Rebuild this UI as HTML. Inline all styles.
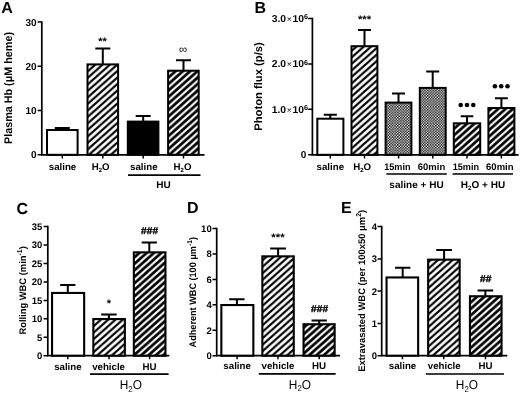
<!DOCTYPE html>
<html><head><meta charset="utf-8"><title>Figure</title>
<style>
html,body{margin:0;padding:0;background:#fff;}
body{width:520px;height:393px;overflow:hidden;font-family:"Liberation Sans",sans-serif;}
svg{display:block;will-change:transform;text-rendering:geometricPrecision;font-family:"Liberation Sans",sans-serif;}
text{fill:#000;}
</style></head><body>
<svg width="520" height="393" viewBox="0 0 520 393">
<defs>
<pattern id="lh" width="7.3" height="6.5" patternUnits="userSpaceOnUse">
<rect width="7.3" height="6.5" fill="#fff"/>
<path d="M-3.650 3.250L3.650 -3.250M-3.650 9.750L10.950 -3.250M3.650 9.750L10.950 3.250" stroke="#000" stroke-width="2.2"/>
</pattern>
<pattern id="hh" width="7.3" height="6.5" patternUnits="userSpaceOnUse">
<rect width="7.3" height="6.5" fill="#fff"/>
<path d="M-3.650 3.250L3.650 -3.250M-3.650 9.750L10.950 -3.250M3.650 9.750L10.950 3.250" stroke="#000" stroke-width="2.7"/>
</pattern>
<pattern id="ck" width="2.72" height="2.72" patternUnits="userSpaceOnUse">
<rect width="2.72" height="2.72" fill="#fff"/>
<rect x="0" y="0" width="1.45" height="1.45" fill="#000"/>
<rect x="1.36" y="1.36" width="1.45" height="1.45" fill="#000"/>
</pattern>
</defs>
<rect width="520" height="393" fill="#fff"/>

<text x="1.20" y="13.00" font-size="16" font-weight="bold" text-anchor="start">A</text>
<text x="254.40" y="12.50" font-size="16" font-weight="bold" text-anchor="start">B</text>
<text x="16.40" y="213.90" font-size="16" font-weight="bold" text-anchor="start">C</text>
<text x="187.10" y="213.10" font-size="16" font-weight="bold" text-anchor="start">D</text>
<text x="341.00" y="213.10" font-size="16" font-weight="bold" text-anchor="start">E</text>
<path d="M41.80 21.30V155.65M40.95 154.80H204.50" stroke="#000" stroke-width="1.7" fill="none"/>
<path d="M37.60 22.10H41.80M37.60 66.30H41.80M37.60 110.50H41.80M37.60 154.70H41.80M62.30 154.80V158.40M102.80 154.80V158.40M143.20 154.80V158.40M183.50 154.80V158.40" stroke="#000" stroke-width="1.5" fill="none"/>
<text x="36.60" y="25.60" font-size="10" font-weight="bold" text-anchor="end">30</text>
<text x="36.60" y="69.80" font-size="10" font-weight="bold" text-anchor="end">20</text>
<text x="36.60" y="114.00" font-size="10" font-weight="bold" text-anchor="end">10</text>
<text x="36.60" y="158.20" font-size="10" font-weight="bold" text-anchor="end">0</text>
<rect x="47.00" y="130.00" width="30.60" height="24.80" fill="#fff" stroke="#000" stroke-width="2.0"/>
<rect x="87.50" y="64.40" width="30.60" height="90.40" fill="url(#lh)" stroke="#000" stroke-width="2.0"/>
<rect x="127.80" y="121.60" width="30.60" height="33.20" fill="#000" stroke="#000" stroke-width="2.0"/>
<rect x="168.10" y="70.70" width="30.60" height="84.10" fill="url(#hh)" stroke="#000" stroke-width="2.0"/>
<path d="M54.80 128.00H69.80M62.30 128.00V130.00" stroke="#000" stroke-width="2.0" fill="none"/>
<path d="M95.30 48.50H110.30M102.80 48.50V64.40" stroke="#000" stroke-width="2.0" fill="none"/>
<path d="M135.70 116.10H150.70M143.20 116.10V121.60" stroke="#000" stroke-width="2.0" fill="none"/>
<path d="M176.00 60.30H191.00M183.50 60.30V70.70" stroke="#000" stroke-width="2.0" fill="none"/>
<text x="102.60" y="45.00" font-size="11" font-weight="bold" text-anchor="middle" textLength="8.6" lengthAdjust="spacingAndGlyphs">**</text>
<text x="183.20" y="52.90" font-size="11.5" font-weight="normal" text-anchor="middle">∞</text>
<text x="62.50" y="170.00" font-size="9.7" font-weight="bold" text-anchor="middle">saline</text>
<text x="100.60" y="170.00" font-size="9.7" font-weight="bold" text-anchor="middle">H<tspan font-size="6.01" dy="2">2</tspan><tspan dy="-2">O</tspan></text>
<text x="143.80" y="170.00" font-size="9.7" font-weight="bold" text-anchor="middle">saline</text>
<text x="182.50" y="170.00" font-size="9.7" font-weight="bold" text-anchor="middle">H<tspan font-size="6.01" dy="2">2</tspan><tspan dy="-2">O</tspan></text>
<path d="M128 175.2H200.5" stroke="#000" stroke-width="1.7"/>
<text x="163.40" y="188.40" font-size="10" font-weight="bold" text-anchor="middle">HU</text>
<text transform="translate(11.50 88.00) rotate(-90)" font-size="11" font-weight="bold" text-anchor="middle" textLength="112" lengthAdjust="spacingAndGlyphs">Plasma Hb (μM heme)</text>
<path d="M312.40 17.80V155.65M311.55 154.80H518.60" stroke="#000" stroke-width="1.7" fill="none"/>
<path d="M308.20 18.50H312.40M308.20 63.90H312.40M308.20 109.30H312.40M308.20 154.70H312.40M330.30 154.80V158.40M364.50 154.80V158.40M398.60 154.80V158.40M432.80 154.80V158.40M467.00 154.80V158.40M501.40 154.80V158.40" stroke="#000" stroke-width="1.5" fill="none"/>
<text x="308.00" y="21.80" font-size="10" font-weight="bold" text-anchor="end" textLength="36.3" lengthAdjust="spacingAndGlyphs">3.0<tspan font-weight="normal" font-size="8.5" dx="0.6">×</tspan><tspan dx="0.6">10</tspan><tspan font-size="7" dy="-2.6">6</tspan></text>
<text x="308.00" y="67.20" font-size="10" font-weight="bold" text-anchor="end" textLength="36.3" lengthAdjust="spacingAndGlyphs">2.0<tspan font-weight="normal" font-size="8.5" dx="0.6">×</tspan><tspan dx="0.6">10</tspan><tspan font-size="7" dy="-2.6">6</tspan></text>
<text x="308.00" y="112.60" font-size="10" font-weight="bold" text-anchor="end" textLength="36.3" lengthAdjust="spacingAndGlyphs">1.0<tspan font-weight="normal" font-size="8.5" dx="0.6">×</tspan><tspan dx="0.6">10</tspan><tspan font-size="7" dy="-2.6">6</tspan></text>
<text x="306.30" y="158.20" font-size="10" font-weight="bold" text-anchor="end">0</text>
<rect x="317.30" y="118.70" width="26.10" height="36.10" fill="#fff" stroke="#000" stroke-width="2.0"/>
<rect x="351.50" y="46.20" width="25.90" height="108.60" fill="url(#lh)" stroke="#000" stroke-width="2.0"/>
<rect x="385.60" y="102.60" width="25.80" height="52.20" fill="url(#ck)" stroke="#000" stroke-width="2.0"/>
<rect x="419.80" y="87.90" width="25.90" height="66.90" fill="url(#ck)" stroke="#000" stroke-width="2.0"/>
<rect x="453.80" y="123.30" width="26.40" height="31.50" fill="url(#hh)" stroke="#000" stroke-width="2.0"/>
<rect x="488.40" y="108.00" width="26.00" height="46.80" fill="url(#hh)" stroke="#000" stroke-width="2.0"/>
<path d="M323.75 114.80H336.85M330.30 114.80V118.70" stroke="#000" stroke-width="2.0" fill="none"/>
<path d="M358.00 30.10H371.00M364.50 30.10V46.20" stroke="#000" stroke-width="2.0" fill="none"/>
<path d="M392.00 93.50H405.00M398.50 93.50V102.60" stroke="#000" stroke-width="2.0" fill="none"/>
<path d="M426.20 71.50H439.20M432.70 71.50V87.90" stroke="#000" stroke-width="2.0" fill="none"/>
<path d="M460.70 116.20H473.30M467.00 116.20V123.30" stroke="#000" stroke-width="2.0" fill="none"/>
<path d="M495.00 98.20H507.80M501.40 98.20V108.00" stroke="#000" stroke-width="2.0" fill="none"/>
<text x="364.60" y="22.70" font-size="11" font-weight="bold" text-anchor="middle" textLength="13.3" lengthAdjust="spacingAndGlyphs">***</text>
<circle cx="460.70" cy="105" r="2.3" fill="#000"/>
<circle cx="467.00" cy="105" r="2.3" fill="#000"/>
<circle cx="473.30" cy="105" r="2.3" fill="#000"/>
<circle cx="494.90" cy="86.2" r="2.3" fill="#000"/>
<circle cx="501.20" cy="86.2" r="2.3" fill="#000"/>
<circle cx="507.50" cy="86.2" r="2.3" fill="#000"/>
<text x="330.30" y="170.30" font-size="9.7" font-weight="bold" text-anchor="middle">saline</text>
<text x="362.20" y="170.30" font-size="9.7" font-weight="bold" text-anchor="middle">H<tspan font-size="6.01" dy="2">2</tspan><tspan dy="-2">O</tspan></text>
<text x="397.40" y="170.20" font-size="9.5" font-weight="bold" text-anchor="middle" textLength="26.3" lengthAdjust="spacingAndGlyphs">15min</text>
<text x="431.50" y="170.20" font-size="9.5" font-weight="bold" text-anchor="middle" textLength="27.4" lengthAdjust="spacingAndGlyphs">60min</text>
<text x="465.90" y="170.20" font-size="9.5" font-weight="bold" text-anchor="middle" textLength="26.3" lengthAdjust="spacingAndGlyphs">15min</text>
<text x="499.80" y="170.20" font-size="9.5" font-weight="bold" text-anchor="middle" textLength="27.4" lengthAdjust="spacingAndGlyphs">60min</text>
<path d="M386.4 174H446.8M452.6 174H513" stroke="#000" stroke-width="1.7"/>
<text x="416.50" y="187.50" font-size="10" font-weight="bold" text-anchor="middle" textLength="54.3" lengthAdjust="spacingAndGlyphs">saline + HU</text>
<text x="483.00" y="187.50" font-size="10" font-weight="bold" text-anchor="middle">H<tspan font-size="6.2" dy="2">2</tspan><tspan dy="-2">O + HU</tspan></text>
<text transform="translate(262.00 86.50) rotate(-90)" font-size="11" font-weight="bold" text-anchor="middle" textLength="88.5" lengthAdjust="spacingAndGlyphs">Photon flux (p/s)</text>
<path d="M47.80 225.80V356.55M46.95 355.70H169.30" stroke="#000" stroke-width="1.7" fill="none"/>
<path d="M43.60 226.60H47.80M43.60 245.00H47.80M43.60 263.50H47.80M43.60 281.90H47.80M43.60 300.40H47.80M43.60 318.80H47.80M43.60 337.30H47.80M43.60 355.70H47.80M67.80 355.70V359.30M109.00 355.70V359.30M149.60 355.70V359.30" stroke="#000" stroke-width="1.5" fill="none"/>
<text x="42.30" y="230.00" font-size="9.5" font-weight="bold" text-anchor="end">35</text>
<text x="42.30" y="248.40" font-size="9.5" font-weight="bold" text-anchor="end">30</text>
<text x="42.30" y="266.90" font-size="9.5" font-weight="bold" text-anchor="end">25</text>
<text x="42.30" y="285.30" font-size="9.5" font-weight="bold" text-anchor="end">20</text>
<text x="42.30" y="303.80" font-size="9.5" font-weight="bold" text-anchor="end">15</text>
<text x="42.30" y="322.20" font-size="9.5" font-weight="bold" text-anchor="end">10</text>
<text x="42.30" y="340.70" font-size="9.5" font-weight="bold" text-anchor="end">5</text>
<text x="42.30" y="359.10" font-size="9.5" font-weight="bold" text-anchor="end">0</text>
<rect x="52.05" y="292.95" width="32.10" height="62.75" fill="#fff" stroke="#000" stroke-width="2.1"/>
<rect x="93.35" y="319.05" width="31.50" height="36.65" fill="url(#lh)" stroke="#000" stroke-width="2.1"/>
<rect x="133.85" y="252.35" width="31.60" height="103.35" fill="url(#hh)" stroke="#000" stroke-width="2.1"/>
<path d="M60.20 285.00H75.40M67.80 285.00V292.70" stroke="#000" stroke-width="2.0" fill="none"/>
<path d="M101.15 314.50H116.65M108.90 314.50V319.00" stroke="#000" stroke-width="2.0" fill="none"/>
<path d="M141.70 242.50H156.90M149.30 242.50V252.30" stroke="#000" stroke-width="2.0" fill="none"/>
<text x="109.00" y="306.90" font-size="11" font-weight="bold" text-anchor="middle">*</text>
<text x="149.60" y="233.90" font-size="10" font-weight="bold" text-anchor="middle" textLength="17" lengthAdjust="spacingAndGlyphs" stroke="#000" stroke-width="0.35">###</text>
<text x="67.90" y="369.60" font-size="9.7" font-weight="bold" text-anchor="middle">saline</text>
<text x="108.60" y="369.60" font-size="9.7" font-weight="bold" text-anchor="middle">vehicle</text>
<text x="149.50" y="369.60" font-size="9.7" font-weight="bold" text-anchor="middle">HU</text>
<path d="M90 374.2H168.6" stroke="#000" stroke-width="1.7"/>
<text x="130.80" y="389.20" font-size="12.8" font-weight="normal" text-anchor="middle" textLength="22.2" lengthAdjust="spacingAndGlyphs">H<tspan font-size="8.45" dy="2.7">2</tspan><tspan dy="-2.7">O</tspan></text>
<text transform="translate(26.20 290.40) rotate(-90)" font-size="9.5" font-weight="bold" text-anchor="middle" textLength="88.4" lengthAdjust="spacingAndGlyphs">Rolling WBC (min<tspan font-size="7" dy="-4.2">-1</tspan><tspan dy="4.2">)</tspan></text>
<path d="M216.70 227.80V356.55M215.85 355.70H340.00" stroke="#000" stroke-width="1.7" fill="none"/>
<path d="M212.50 228.50H216.70M212.50 253.90H216.70M212.50 279.40H216.70M212.50 304.80H216.70M212.50 330.30H216.70M212.50 355.70H216.70M237.10 355.70V359.30M278.00 355.70V359.30M319.20 355.70V359.30" stroke="#000" stroke-width="1.5" fill="none"/>
<text x="211.70" y="231.90" font-size="9.5" font-weight="bold" text-anchor="end">10</text>
<text x="211.70" y="257.30" font-size="9.5" font-weight="bold" text-anchor="end">8</text>
<text x="211.70" y="282.80" font-size="9.5" font-weight="bold" text-anchor="end">6</text>
<text x="211.70" y="308.20" font-size="9.5" font-weight="bold" text-anchor="end">4</text>
<text x="211.70" y="333.70" font-size="9.5" font-weight="bold" text-anchor="end">2</text>
<text x="211.70" y="359.10" font-size="9.5" font-weight="bold" text-anchor="end">0</text>
<rect x="221.35" y="305.05" width="32.00" height="50.65" fill="#fff" stroke="#000" stroke-width="2.1"/>
<rect x="262.35" y="256.35" width="31.40" height="99.35" fill="url(#lh)" stroke="#000" stroke-width="2.1"/>
<rect x="303.55" y="324.25" width="31.10" height="31.45" fill="url(#hh)" stroke="#000" stroke-width="2.1"/>
<path d="M229.20 299.20H244.60M236.90 299.20V305.00" stroke="#000" stroke-width="2.0" fill="none"/>
<path d="M270.20 248.60H286.00M278.10 248.60V256.30" stroke="#000" stroke-width="2.0" fill="none"/>
<path d="M311.55 320.60H326.85M319.20 320.60V324.20" stroke="#000" stroke-width="2.0" fill="none"/>
<text x="278.00" y="241.40" font-size="11" font-weight="bold" text-anchor="middle" textLength="13.3" lengthAdjust="spacingAndGlyphs">***</text>
<text x="319.60" y="311.80" font-size="10" font-weight="bold" text-anchor="middle" textLength="17" lengthAdjust="spacingAndGlyphs" stroke="#000" stroke-width="0.35">###</text>
<text x="237.10" y="369.20" font-size="9.7" font-weight="bold" text-anchor="middle">saline</text>
<text x="278.00" y="369.20" font-size="9.7" font-weight="bold" text-anchor="middle">vehicle</text>
<text x="319.00" y="369.20" font-size="9.7" font-weight="bold" text-anchor="middle">HU</text>
<path d="M258.8 373.8H335.6" stroke="#000" stroke-width="1.7"/>
<text x="299.90" y="388.60" font-size="12.8" font-weight="normal" text-anchor="middle" textLength="22.2" lengthAdjust="spacingAndGlyphs">H<tspan font-size="8.45" dy="2.7">2</tspan><tspan dy="-2.7">O</tspan></text>
<text transform="translate(196.20 292.20) rotate(-90)" font-size="9.5" font-weight="bold" text-anchor="middle" textLength="110.4" lengthAdjust="spacingAndGlyphs">Adherent WBC (100 μm<tspan font-size="7" dy="-4.2">-1</tspan><tspan dy="4.2">)</tspan></text>
<path d="M381.70 225.80V356.55M380.85 355.70H507.30" stroke="#000" stroke-width="1.7" fill="none"/>
<path d="M377.50 226.60H381.70M377.50 258.90H381.70M377.50 291.10H381.70M377.50 323.40H381.70M377.50 355.70H381.70M402.40 355.70V359.30M443.70 355.70V359.30M485.50 355.70V359.30" stroke="#000" stroke-width="1.5" fill="none"/>
<text x="377.00" y="230.00" font-size="9.5" font-weight="bold" text-anchor="end">4</text>
<text x="377.00" y="262.30" font-size="9.5" font-weight="bold" text-anchor="end">3</text>
<text x="377.00" y="294.50" font-size="9.5" font-weight="bold" text-anchor="end">2</text>
<text x="377.00" y="326.80" font-size="9.5" font-weight="bold" text-anchor="end">1</text>
<text x="377.00" y="359.10" font-size="9.5" font-weight="bold" text-anchor="end">0</text>
<rect x="386.55" y="277.45" width="31.60" height="78.25" fill="#fff" stroke="#000" stroke-width="2.1"/>
<rect x="428.15" y="259.65" width="31.50" height="96.05" fill="url(#lh)" stroke="#000" stroke-width="2.1"/>
<rect x="469.95" y="296.25" width="31.60" height="59.45" fill="url(#hh)" stroke="#000" stroke-width="2.1"/>
<path d="M395.00 267.70H410.40M402.70 267.70V277.40" stroke="#000" stroke-width="2.0" fill="none"/>
<path d="M436.30 250.00H451.90M444.10 250.00V259.60" stroke="#000" stroke-width="2.0" fill="none"/>
<path d="M477.60 290.50H493.20M485.40 290.50V296.20" stroke="#000" stroke-width="2.0" fill="none"/>
<text x="485.70" y="282.30" font-size="10" font-weight="bold" text-anchor="middle" textLength="11.4" lengthAdjust="spacingAndGlyphs" stroke="#000" stroke-width="0.35">##</text>
<text x="402.50" y="369.30" font-size="9.7" font-weight="bold" text-anchor="middle">saline</text>
<text x="444.20" y="369.30" font-size="9.7" font-weight="bold" text-anchor="middle">vehicle</text>
<text x="485.60" y="369.30" font-size="9.7" font-weight="bold" text-anchor="middle">HU</text>
<path d="M425.8 374H504" stroke="#000" stroke-width="1.7"/>
<text x="466.90" y="389.00" font-size="12.8" font-weight="normal" text-anchor="middle" textLength="22.2" lengthAdjust="spacingAndGlyphs">H<tspan font-size="8.45" dy="2.7">2</tspan><tspan dy="-2.7">O</tspan></text>
<text transform="translate(365.30 290.80) rotate(-90)" font-size="9.5" font-weight="bold" text-anchor="middle" textLength="162" lengthAdjust="spacingAndGlyphs">Extravasated WBC (per 100x50 μm<tspan font-size="7" dy="-4.2">2</tspan><tspan dy="4.2">)</tspan></text>
</svg>
</body></html>
